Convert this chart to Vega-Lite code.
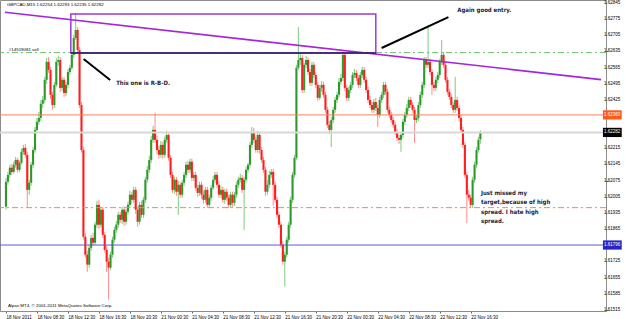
{
"$schema":"https://vega.github.io/schema/vega-lite/v6.json",
"width":606,"height":311,
"autosize":{"type":"none"},
"padding":{"left":0,"top":0,"right":19,"bottom":8},
"background":"white",
"config":{"view":{"stroke":"#8c8c8c","strokeWidth":1},"font":"Liberation Sans","axis":{"labelOverlap":false,"labelBound":false,"labelFlush":false}},
"data":{"values":[{}]},
"datasets":{"bars":[
{"i":0,"o":1.61962,"h":1.62087,"l":1.61949,"c":1.62070},
{"i":1,"o":1.62070,"h":1.62113,"l":1.62057,"c":1.62100},
{"i":2,"o":1.62100,"h":1.62144,"l":1.62087,"c":1.62131},
{"i":3,"o":1.62131,"h":1.62148,"l":1.62100,"c":1.62113},
{"i":4,"o":1.62113,"h":1.62157,"l":1.62105,"c":1.62144},
{"i":5,"o":1.62144,"h":1.62178,"l":1.62131,"c":1.62165},
{"i":6,"o":1.62165,"h":1.62174,"l":1.62109,"c":1.62122},
{"i":7,"o":1.62122,"h":1.62161,"l":1.62113,"c":1.62152},
{"i":8,"o":1.62152,"h":1.62213,"l":1.62144,"c":1.62200},
{"i":9,"o":1.62200,"h":1.62230,"l":1.62187,"c":1.62217},
{"i":10,"o":1.62217,"h":1.62234,"l":1.62174,"c":1.62187},
{"i":11,"o":1.62187,"h":1.62200,"l":1.61962,"c":1.62035},
{"i":12,"o":1.62035,"h":1.62079,"l":1.62014,"c":1.62066},
{"i":13,"o":1.62066,"h":1.62157,"l":1.62053,"c":1.62144},
{"i":14,"o":1.62144,"h":1.62221,"l":1.62131,"c":1.62208},
{"i":15,"o":1.62208,"h":1.62308,"l":1.62196,"c":1.62295},
{"i":16,"o":1.62295,"h":1.62347,"l":1.62282,"c":1.62330},
{"i":17,"o":1.62330,"h":1.62373,"l":1.62317,"c":1.62347},
{"i":18,"o":1.62347,"h":1.62425,"l":1.62334,"c":1.62408},
{"i":19,"o":1.62408,"h":1.62442,"l":1.62390,"c":1.62425},
{"i":20,"o":1.62425,"h":1.62525,"l":1.62412,"c":1.62512},
{"i":21,"o":1.62512,"h":1.62607,"l":1.62494,"c":1.62590},
{"i":22,"o":1.62590,"h":1.62611,"l":1.62542,"c":1.62555},
{"i":23,"o":1.62555,"h":1.62568,"l":1.62429,"c":1.62447},
{"i":24,"o":1.62447,"h":1.62460,"l":1.62382,"c":1.62403},
{"i":25,"o":1.62403,"h":1.62503,"l":1.62390,"c":1.62490},
{"i":26,"o":1.62490,"h":1.62607,"l":1.62481,"c":1.62590},
{"i":27,"o":1.62590,"h":1.62616,"l":1.62572,"c":1.62598},
{"i":28,"o":1.62598,"h":1.62611,"l":1.62460,"c":1.62477},
{"i":29,"o":1.62477,"h":1.62525,"l":1.62464,"c":1.62512},
{"i":30,"o":1.62512,"h":1.62525,"l":1.62438,"c":1.62455},
{"i":31,"o":1.62455,"h":1.62503,"l":1.62442,"c":1.62490},
{"i":32,"o":1.62490,"h":1.62559,"l":1.62477,"c":1.62546},
{"i":33,"o":1.62546,"h":1.62577,"l":1.62533,"c":1.62564},
{"i":34,"o":1.62564,"h":1.62633,"l":1.62555,"c":1.62620},
{"i":35,"o":1.62620,"h":1.62706,"l":1.62607,"c":1.62693},
{"i":36,"o":1.62693,"h":1.62802,"l":1.62685,"c":1.62728},
{"i":37,"o":1.62728,"h":1.62741,"l":1.62629,"c":1.62641},
{"i":38,"o":1.62641,"h":1.62654,"l":1.62390,"c":1.62403},
{"i":39,"o":1.62403,"h":1.62416,"l":1.62196,"c":1.62208},
{"i":40,"o":1.62208,"h":1.62221,"l":1.61819,"c":1.61832},
{"i":41,"o":1.61832,"h":1.61849,"l":1.61741,"c":1.61754},
{"i":42,"o":1.61754,"h":1.61771,"l":1.61680,"c":1.61711},
{"i":43,"o":1.61711,"h":1.61797,"l":1.61698,"c":1.61784},
{"i":44,"o":1.61784,"h":1.61840,"l":1.61771,"c":1.61827},
{"i":45,"o":1.61827,"h":1.61849,"l":1.61793,"c":1.61806},
{"i":46,"o":1.61806,"h":1.61897,"l":1.61797,"c":1.61884},
{"i":47,"o":1.61884,"h":1.61988,"l":1.61871,"c":1.61970},
{"i":48,"o":1.61970,"h":1.61992,"l":1.61866,"c":1.61884},
{"i":49,"o":1.61884,"h":1.61962,"l":1.61871,"c":1.61949},
{"i":50,"o":1.61949,"h":1.61962,"l":1.61827,"c":1.61840},
{"i":51,"o":1.61840,"h":1.61853,"l":1.61763,"c":1.61775},
{"i":52,"o":1.61775,"h":1.61793,"l":1.61680,"c":1.61724},
{"i":53,"o":1.61724,"h":1.61741,"l":1.61559,"c":1.61698},
{"i":54,"o":1.61698,"h":1.61767,"l":1.61689,"c":1.61754},
{"i":55,"o":1.61754,"h":1.61832,"l":1.61741,"c":1.61819},
{"i":56,"o":1.61819,"h":1.61875,"l":1.61806,"c":1.61862},
{"i":57,"o":1.61862,"h":1.61901,"l":1.61849,"c":1.61884},
{"i":58,"o":1.61884,"h":1.61940,"l":1.61871,"c":1.61927},
{"i":59,"o":1.61927,"h":1.61940,"l":1.61892,"c":1.61905},
{"i":60,"o":1.61905,"h":1.61962,"l":1.61888,"c":1.61949},
{"i":61,"o":1.61949,"h":1.61962,"l":1.61879,"c":1.61897},
{"i":62,"o":1.61897,"h":1.61953,"l":1.61884,"c":1.61940},
{"i":63,"o":1.61940,"h":1.61983,"l":1.61927,"c":1.61970},
{"i":64,"o":1.61970,"h":1.62031,"l":1.61957,"c":1.62014},
{"i":65,"o":1.62014,"h":1.62027,"l":1.61975,"c":1.61992},
{"i":66,"o":1.61992,"h":1.62048,"l":1.61979,"c":1.62035},
{"i":67,"o":1.62035,"h":1.62048,"l":1.61931,"c":1.61949},
{"i":68,"o":1.61949,"h":1.61962,"l":1.61875,"c":1.61897},
{"i":69,"o":1.61897,"h":1.61983,"l":1.61884,"c":1.61970},
{"i":70,"o":1.61970,"h":1.61988,"l":1.61914,"c":1.61927},
{"i":71,"o":1.61927,"h":1.62005,"l":1.61914,"c":1.61992},
{"i":72,"o":1.61992,"h":1.62092,"l":1.61979,"c":1.62079},
{"i":73,"o":1.62079,"h":1.62139,"l":1.62066,"c":1.62122},
{"i":74,"o":1.62122,"h":1.62183,"l":1.62109,"c":1.62165},
{"i":75,"o":1.62165,"h":1.62269,"l":1.62152,"c":1.62252},
{"i":76,"o":1.62252,"h":1.62312,"l":1.62239,"c":1.62295},
{"i":77,"o":1.62295,"h":1.62369,"l":1.62239,"c":1.62252},
{"i":78,"o":1.62252,"h":1.62269,"l":1.62191,"c":1.62208},
{"i":79,"o":1.62208,"h":1.62226,"l":1.62170,"c":1.62187},
{"i":80,"o":1.62187,"h":1.62247,"l":1.62174,"c":1.62230},
{"i":81,"o":1.62230,"h":1.62243,"l":1.62170,"c":1.62187},
{"i":82,"o":1.62187,"h":1.62265,"l":1.62174,"c":1.62252},
{"i":83,"o":1.62252,"h":1.62291,"l":1.62239,"c":1.62273},
{"i":84,"o":1.62273,"h":1.62286,"l":1.62161,"c":1.62174},
{"i":85,"o":1.62174,"h":1.62187,"l":1.62087,"c":1.62100},
{"i":86,"o":1.62100,"h":1.62113,"l":1.62022,"c":1.62035},
{"i":87,"o":1.62035,"h":1.62092,"l":1.62018,"c":1.62079},
{"i":88,"o":1.62079,"h":1.62092,"l":1.62009,"c":1.62027},
{"i":89,"o":1.62027,"h":1.62074,"l":1.61927,"c":1.62057},
{"i":90,"o":1.62057,"h":1.62070,"l":1.62001,"c":1.62014},
{"i":91,"o":1.62014,"h":1.62079,"l":1.62001,"c":1.62066},
{"i":92,"o":1.62066,"h":1.62113,"l":1.62053,"c":1.62100},
{"i":93,"o":1.62100,"h":1.62157,"l":1.62087,"c":1.62144},
{"i":94,"o":1.62144,"h":1.62161,"l":1.62109,"c":1.62122},
{"i":95,"o":1.62122,"h":1.62170,"l":1.62109,"c":1.62157},
{"i":96,"o":1.62157,"h":1.62170,"l":1.62074,"c":1.62087},
{"i":97,"o":1.62087,"h":1.62113,"l":1.62074,"c":1.62100},
{"i":98,"o":1.62100,"h":1.62113,"l":1.62031,"c":1.62044},
{"i":99,"o":1.62044,"h":1.62057,"l":1.62005,"c":1.62022},
{"i":100,"o":1.62022,"h":1.62070,"l":1.62009,"c":1.62057},
{"i":101,"o":1.62057,"h":1.62070,"l":1.61996,"c":1.62014},
{"i":102,"o":1.62014,"h":1.62031,"l":1.61975,"c":1.61992},
{"i":103,"o":1.61992,"h":1.62048,"l":1.61979,"c":1.62035},
{"i":104,"o":1.62035,"h":1.62048,"l":1.61957,"c":1.61970},
{"i":105,"o":1.61970,"h":1.62014,"l":1.61957,"c":1.62001},
{"i":106,"o":1.62001,"h":1.62057,"l":1.61988,"c":1.62044},
{"i":107,"o":1.62044,"h":1.62096,"l":1.62035,"c":1.62079},
{"i":108,"o":1.62079,"h":1.62113,"l":1.62066,"c":1.62100},
{"i":109,"o":1.62100,"h":1.62113,"l":1.62044,"c":1.62057},
{"i":110,"o":1.62057,"h":1.62074,"l":1.62001,"c":1.62014},
{"i":111,"o":1.62014,"h":1.62053,"l":1.62001,"c":1.62035},
{"i":112,"o":1.62035,"h":1.62048,"l":1.61979,"c":1.61992},
{"i":113,"o":1.61992,"h":1.62040,"l":1.61975,"c":1.62027},
{"i":114,"o":1.62027,"h":1.62040,"l":1.61988,"c":1.62001},
{"i":115,"o":1.62001,"h":1.62014,"l":1.61957,"c":1.61970},
{"i":116,"o":1.61970,"h":1.62027,"l":1.61957,"c":1.62014},
{"i":117,"o":1.62014,"h":1.62027,"l":1.61962,"c":1.61979},
{"i":118,"o":1.61979,"h":1.62027,"l":1.61966,"c":1.62014},
{"i":119,"o":1.62014,"h":1.62070,"l":1.62001,"c":1.62057},
{"i":120,"o":1.62057,"h":1.62092,"l":1.62044,"c":1.62079},
{"i":121,"o":1.62079,"h":1.62105,"l":1.62066,"c":1.62087},
{"i":122,"o":1.62087,"h":1.62100,"l":1.62022,"c":1.62035},
{"i":123,"o":1.62035,"h":1.62092,"l":1.61862,"c":1.62079},
{"i":124,"o":1.62079,"h":1.62135,"l":1.62066,"c":1.62122},
{"i":125,"o":1.62122,"h":1.62152,"l":1.62109,"c":1.62144},
{"i":126,"o":1.62144,"h":1.62243,"l":1.62131,"c":1.62230},
{"i":127,"o":1.62230,"h":1.62308,"l":1.62217,"c":1.62286},
{"i":128,"o":1.62286,"h":1.62304,"l":1.62239,"c":1.62252},
{"i":129,"o":1.62252,"h":1.62265,"l":1.62196,"c":1.62208},
{"i":130,"o":1.62208,"h":1.62291,"l":1.62196,"c":1.62273},
{"i":131,"o":1.62273,"h":1.62286,"l":1.62191,"c":1.62208},
{"i":132,"o":1.62208,"h":1.62221,"l":1.62152,"c":1.62165},
{"i":133,"o":1.62165,"h":1.62178,"l":1.62109,"c":1.62122},
{"i":134,"o":1.62122,"h":1.62135,"l":1.62009,"c":1.62027},
{"i":135,"o":1.62027,"h":1.62079,"l":1.62014,"c":1.62057},
{"i":136,"o":1.62057,"h":1.62118,"l":1.62044,"c":1.62100},
{"i":137,"o":1.62100,"h":1.62126,"l":1.62087,"c":1.62113},
{"i":138,"o":1.62113,"h":1.62126,"l":1.61966,"c":1.62057},
{"i":139,"o":1.62057,"h":1.62070,"l":1.61979,"c":1.61992},
{"i":140,"o":1.61992,"h":1.62005,"l":1.61914,"c":1.61927},
{"i":141,"o":1.61927,"h":1.61940,"l":1.61871,"c":1.61884},
{"i":142,"o":1.61884,"h":1.61897,"l":1.61784,"c":1.61797},
{"i":143,"o":1.61797,"h":1.61814,"l":1.61711,"c":1.61724},
{"i":144,"o":1.61724,"h":1.61767,"l":1.61615,"c":1.61754},
{"i":145,"o":1.61754,"h":1.61832,"l":1.61741,"c":1.61819},
{"i":146,"o":1.61819,"h":1.61897,"l":1.61806,"c":1.61884},
{"i":147,"o":1.61884,"h":1.62005,"l":1.61871,"c":1.61992},
{"i":148,"o":1.61992,"h":1.62113,"l":1.61979,"c":1.62100},
{"i":149,"o":1.62100,"h":1.62187,"l":1.62087,"c":1.62174},
{"i":150,"o":1.62174,"h":1.62577,"l":1.62165,"c":1.62564},
{"i":151,"o":1.62564,"h":1.62741,"l":1.62555,"c":1.62598},
{"i":152,"o":1.62598,"h":1.62629,"l":1.62577,"c":1.62607},
{"i":153,"o":1.62607,"h":1.62620,"l":1.62455,"c":1.62468},
{"i":154,"o":1.62468,"h":1.62585,"l":1.62455,"c":1.62577},
{"i":155,"o":1.62577,"h":1.62616,"l":1.62564,"c":1.62598},
{"i":156,"o":1.62598,"h":1.62611,"l":1.62533,"c":1.62546},
{"i":157,"o":1.62546,"h":1.62559,"l":1.62486,"c":1.62499},
{"i":158,"o":1.62499,"h":1.62590,"l":1.62486,"c":1.62577},
{"i":159,"o":1.62577,"h":1.62590,"l":1.62520,"c":1.62533},
{"i":160,"o":1.62533,"h":1.62546,"l":1.62477,"c":1.62490},
{"i":161,"o":1.62490,"h":1.62503,"l":1.62421,"c":1.62434},
{"i":162,"o":1.62434,"h":1.62490,"l":1.62425,"c":1.62477},
{"i":163,"o":1.62477,"h":1.62507,"l":1.62460,"c":1.62490},
{"i":164,"o":1.62490,"h":1.62503,"l":1.62434,"c":1.62447},
{"i":165,"o":1.62447,"h":1.62460,"l":1.62369,"c":1.62382},
{"i":166,"o":1.62382,"h":1.62395,"l":1.62304,"c":1.62317},
{"i":167,"o":1.62317,"h":1.62334,"l":1.62278,"c":1.62295},
{"i":168,"o":1.62295,"h":1.62351,"l":1.62221,"c":1.62338},
{"i":169,"o":1.62338,"h":1.62395,"l":1.62325,"c":1.62382},
{"i":170,"o":1.62382,"h":1.62438,"l":1.62369,"c":1.62425},
{"i":171,"o":1.62425,"h":1.62460,"l":1.62412,"c":1.62447},
{"i":172,"o":1.62447,"h":1.62520,"l":1.62434,"c":1.62503},
{"i":173,"o":1.62503,"h":1.62538,"l":1.62490,"c":1.62520},
{"i":174,"o":1.62520,"h":1.62633,"l":1.62507,"c":1.62620},
{"i":175,"o":1.62620,"h":1.62633,"l":1.62464,"c":1.62477},
{"i":176,"o":1.62477,"h":1.62490,"l":1.62421,"c":1.62434},
{"i":177,"o":1.62434,"h":1.62481,"l":1.62421,"c":1.62468},
{"i":178,"o":1.62468,"h":1.62503,"l":1.62455,"c":1.62490},
{"i":179,"o":1.62490,"h":1.62546,"l":1.62477,"c":1.62533},
{"i":180,"o":1.62533,"h":1.62559,"l":1.62520,"c":1.62542},
{"i":181,"o":1.62542,"h":1.62555,"l":1.62507,"c":1.62520},
{"i":182,"o":1.62520,"h":1.62533,"l":1.62477,"c":1.62490},
{"i":183,"o":1.62490,"h":1.62546,"l":1.62477,"c":1.62533},
{"i":184,"o":1.62533,"h":1.62568,"l":1.62520,"c":1.62555},
{"i":185,"o":1.62555,"h":1.62568,"l":1.62499,"c":1.62512},
{"i":186,"o":1.62512,"h":1.62525,"l":1.62455,"c":1.62468},
{"i":187,"o":1.62468,"h":1.62481,"l":1.62412,"c":1.62425},
{"i":188,"o":1.62425,"h":1.62442,"l":1.62390,"c":1.62403},
{"i":189,"o":1.62403,"h":1.62416,"l":1.62369,"c":1.62382},
{"i":190,"o":1.62382,"h":1.62429,"l":1.62369,"c":1.62416},
{"i":191,"o":1.62416,"h":1.62434,"l":1.62377,"c":1.62390},
{"i":192,"o":1.62390,"h":1.62403,"l":1.62308,"c":1.62360},
{"i":193,"o":1.62360,"h":1.62438,"l":1.62347,"c":1.62425},
{"i":194,"o":1.62425,"h":1.62460,"l":1.62412,"c":1.62447},
{"i":195,"o":1.62447,"h":1.62503,"l":1.62434,"c":1.62490},
{"i":196,"o":1.62490,"h":1.62503,"l":1.62447,"c":1.62460},
{"i":197,"o":1.62460,"h":1.62473,"l":1.62369,"c":1.62382},
{"i":198,"o":1.62382,"h":1.62395,"l":1.62347,"c":1.62360},
{"i":199,"o":1.62360,"h":1.62373,"l":1.62325,"c":1.62338},
{"i":200,"o":1.62338,"h":1.62351,"l":1.62304,"c":1.62317},
{"i":201,"o":1.62317,"h":1.62330,"l":1.62273,"c":1.62286},
{"i":202,"o":1.62286,"h":1.62299,"l":1.62247,"c":1.62260},
{"i":203,"o":1.62260,"h":1.62273,"l":1.62234,"c":1.62252},
{"i":204,"o":1.62252,"h":1.62286,"l":1.62200,"c":1.62273},
{"i":205,"o":1.62273,"h":1.62343,"l":1.62260,"c":1.62330},
{"i":206,"o":1.62330,"h":1.62373,"l":1.62317,"c":1.62360},
{"i":207,"o":1.62360,"h":1.62408,"l":1.62347,"c":1.62390},
{"i":208,"o":1.62390,"h":1.62438,"l":1.62377,"c":1.62425},
{"i":209,"o":1.62425,"h":1.62438,"l":1.62390,"c":1.62403},
{"i":210,"o":1.62403,"h":1.62416,"l":1.62369,"c":1.62382},
{"i":211,"o":1.62382,"h":1.62395,"l":1.62239,"c":1.62338},
{"i":212,"o":1.62338,"h":1.62360,"l":1.62325,"c":1.62347},
{"i":213,"o":1.62347,"h":1.62416,"l":1.62334,"c":1.62403},
{"i":214,"o":1.62403,"h":1.62460,"l":1.62390,"c":1.62447},
{"i":215,"o":1.62447,"h":1.62503,"l":1.62434,"c":1.62490},
{"i":216,"o":1.62490,"h":1.62611,"l":1.62477,"c":1.62598},
{"i":217,"o":1.62598,"h":1.62611,"l":1.62564,"c":1.62577},
{"i":218,"o":1.62577,"h":1.62741,"l":1.62564,"c":1.62590},
{"i":219,"o":1.62590,"h":1.62603,"l":1.62533,"c":1.62546},
{"i":220,"o":1.62546,"h":1.62559,"l":1.62447,"c":1.62490},
{"i":221,"o":1.62490,"h":1.62503,"l":1.62464,"c":1.62477},
{"i":222,"o":1.62477,"h":1.62525,"l":1.62464,"c":1.62512},
{"i":223,"o":1.62512,"h":1.62546,"l":1.62499,"c":1.62533},
{"i":224,"o":1.62533,"h":1.62603,"l":1.62520,"c":1.62590},
{"i":225,"o":1.62590,"h":1.62685,"l":1.62577,"c":1.62620},
{"i":226,"o":1.62620,"h":1.62633,"l":1.62564,"c":1.62577},
{"i":227,"o":1.62577,"h":1.62590,"l":1.62499,"c":1.62512},
{"i":228,"o":1.62512,"h":1.62525,"l":1.62447,"c":1.62460},
{"i":229,"o":1.62460,"h":1.62473,"l":1.62425,"c":1.62438},
{"i":230,"o":1.62438,"h":1.62451,"l":1.62390,"c":1.62403},
{"i":231,"o":1.62403,"h":1.62416,"l":1.62369,"c":1.62382},
{"i":232,"o":1.62382,"h":1.62525,"l":1.62369,"c":1.62425},
{"i":233,"o":1.62425,"h":1.62438,"l":1.62377,"c":1.62390},
{"i":234,"o":1.62390,"h":1.62403,"l":1.62334,"c":1.62347},
{"i":235,"o":1.62347,"h":1.62360,"l":1.62282,"c":1.62295},
{"i":236,"o":1.62295,"h":1.62308,"l":1.62217,"c":1.62230},
{"i":237,"o":1.62230,"h":1.62243,"l":1.62087,"c":1.62100},
{"i":238,"o":1.62100,"h":1.62113,"l":1.61892,"c":1.62014},
{"i":239,"o":1.62014,"h":1.62035,"l":1.61988,"c":1.62001},
{"i":240,"o":1.62001,"h":1.62014,"l":1.61957,"c":1.61970},
{"i":241,"o":1.61970,"h":1.62092,"l":1.61957,"c":1.62079},
{"i":242,"o":1.62079,"h":1.62157,"l":1.62066,"c":1.62144},
{"i":243,"o":1.62144,"h":1.62221,"l":1.62131,"c":1.62208},
{"i":244,"o":1.62208,"h":1.62265,"l":1.62196,"c":1.62252},
{"i":245,"o":1.62254,"h":1.62293,"l":1.62235,"c":1.62282}
],
"yticks":[{"p":1.62845},{"p":1.62775},{"p":1.62705},{"p":1.62635},{"p":1.62565},{"p":1.62495},{"p":1.62425},{"p":1.62215},{"p":1.62145},{"p":1.62075},{"p":1.62005},{"p":1.61935},{"p":1.61865},{"p":1.61725},{"p":1.61655},{"p":1.61585},{"p":1.61515}]
},
"layer":[
{"data":{"name":"bars"},
 "mark":{"type":"rule","strokeWidth":1},
 "encoding":{
  "x":{"field":"i","type":"quantitative","scale":{"domain":[-0.5,307.3],"nice":false,"zero":false},
    "axis":{"orient":"bottom","title":null,"grid":false,"values":[0,16,32,48,64,80,96,112,128,144,160,176,192,208,224,240],
      "labelExpr":"['18 Nov 2011','18 Nov 08:30','18 Nov 12:30','18 Nov 16:30','18 Nov 20:30','21 Nov 00:30','21 Nov 04:30','21 Nov 08:30','21 Nov 12:30','21 Nov 16:30','21 Nov 20:30','22 Nov 00:30','22 Nov 04:30','22 Nov 08:30','22 Nov 12:30','22 Nov 16:30'][round(datum.value/16)]",
      "labelAlign":"left","labelFontSize":4.5,"labelColor":"#000","labelPadding":1,"labelFont":"Liberation Sans","tickSize":2,"tickColor":"#666","domainColor":"#8c8c8c","labelOverlap":false,"labelBound":false}},
  "y":{"field":"l","type":"quantitative","scale":{"domain":[1.6151,1.62858],"nice":false,"zero":false},
    "axis":{"orient":"right","title":null,"grid":false,"labels":false,"values":[1.62845,1.62775,1.62705,1.62635,1.62565,1.62495,1.62425,1.62355,1.62285,1.62215,1.62145,1.62075,1.62005,1.61935,1.61865,1.61795,1.61725,1.61655,1.61585,1.61515],
      "tickSize":2,"tickColor":"#666","domainColor":"#8c8c8c"}},
  "y2":{"field":"h"},
  "color":{"condition":{"test":"datum.c >= datum.o","value":"#7ccc7c"},"value":"#ff8c8c"}
 }},
{"data":{"name":"bars"},
 "mark":{"type":"bar","size":2.1},
 "encoding":{
  "x":{"field":"i","type":"quantitative"},
  "y":{"field":"o","type":"quantitative"},
  "y2":{"field":"c"},
  "color":{"condition":{"test":"datum.c >= datum.o","value":"#2b9a2b"},"value":"#ff1e1e"}
 }},
{"data":{"name":"yticks"},
 "mark":{"type":"text","clip":false,"align":"left","baseline":"middle","fontSize":4.5,"color":"#000"},
 "encoding":{"x":{"datum":308.9,"type":"quantitative"},"y":{"field":"p","type":"quantitative"},"text":{"field":"p","type":"quantitative","format":".5f"}}},
{"mark":{"type":"rule","color":"#f4845f","strokeWidth":1},"encoding":{"y":{"datum":1.6236,"type":"quantitative"}}},
{"mark":{"type":"rule","color":"#d8d8d8","strokeWidth":2},"encoding":{"y":{"datum":1.62284,"type":"quantitative"}}},
{"mark":{"type":"rule","color":"#5b5bd6","strokeWidth":1},"encoding":{"y":{"datum":1.61796,"type":"quantitative"}}},
{"mark":{"type":"rule","color":"#6cbf6c","strokeWidth":1,"strokeDash":[6,3,2,3]},"encoding":{"y":{"datum":1.6263,"type":"quantitative"}}},
{"mark":{"type":"rule","color":"#f4845f","strokeWidth":1,"strokeDash":[6,3,2,3]},"encoding":{"y":{"datum":1.61958,"type":"quantitative"}}},
{"mark":{"type":"rule","color":"#a524e0","strokeWidth":1.6},"encoding":{"x":{"datum":-0.5,"type":"quantitative"},"y":{"datum":1.62805,"type":"quantitative"},"x2":{"datum":307.3},"y2":{"datum":1.62513}}},
{"mark":{"type":"rect","filled":false,"stroke":"#9a3ad8","strokeWidth":1.5},"encoding":{"x":{"datum":33.5,"type":"quantitative"},"x2":{"datum":191},"y":{"datum":1.62797,"type":"quantitative"},"y2":{"datum":1.62628}}},
{"mark":{"type":"rule","color":"#2a1a5e","strokeWidth":1.5},"encoding":{"x":{"datum":33.5,"type":"quantitative"},"x2":{"datum":191},"y":{"datum":1.62628,"type":"quantitative"}}},
{"mark":{"type":"rule","color":"#000","strokeWidth":2},"encoding":{"x":{"datum":40.1,"type":"quantitative"},"y":{"datum":1.62602,"type":"quantitative"},"x2":{"datum":53.8},"y2":{"datum":1.62511}}},
{"mark":{"type":"rule","color":"#000","strokeWidth":2},"encoding":{"x":{"datum":194,"type":"quantitative"},"y":{"datum":1.6265,"type":"quantitative"},"x2":{"datum":228.5},"y2":{"datum":1.62784}}},
{"mark":{"type":"text","align":"left","baseline":"middle","font":"Liberation Sans Narrow, DejaVu Sans Condensed, Liberation Sans","fontWeight":"bold","fontSize":6,"color":"#1c1c3a"},"encoding":{"x":{"datum":56.9,"type":"quantitative"},"y":{"datum":1.62498,"type":"quantitative"},"text":{"value":"This one is R-B-D."}}},
{"mark":{"type":"text","align":"left","baseline":"middle","font":"Liberation Sans Narrow, DejaVu Sans Condensed, Liberation Sans","fontWeight":"bold","fontSize":6,"color":"#1c1c3a"},"encoding":{"x":{"datum":233.1,"type":"quantitative"},"y":{"datum":1.62815,"type":"quantitative"},"text":{"value":"Again good entry."}}},
{"mark":{"type":"text","align":"left","baseline":"middle","lineBreak":"\n","lineHeight":9.4,"font":"Liberation Sans Narrow, DejaVu Sans Condensed, Liberation Sans","fontWeight":"bold","fontSize":6,"color":"#1c1c3a"},"encoding":{"x":{"datum":245.3,"type":"quantitative"},"y":{"datum":1.62022,"type":"quantitative"},"text":{"value":"Just missed my\ntarget,because of high\nspread. I hate high\nspread."}}},
{"mark":{"type":"text","align":"left","baseline":"middle","fontSize":4.4,"color":"#000"},"encoding":{"x":{"datum":0.5,"type":"quantitative"},"y":{"datum":1.62836,"type":"quantitative"},"text":{"value":"GBPCAD,M15  1.62254 1.62293 1.62235 1.62282"}}},
{"mark":{"type":"text","align":"left","baseline":"middle","fontSize":4.4,"color":"#000"},"encoding":{"x":{"datum":1.5,"type":"quantitative"},"y":{"datum":1.62643,"type":"quantitative"},"text":{"value":"#14519081 sell"}}},
{"mark":{"type":"text","align":"left","baseline":"middle","fontSize":4.4,"color":"#000"},"encoding":{"x":{"datum":1,"type":"quantitative"},"y":{"datum":1.61532,"type":"quantitative"},"text":{"value":"Alpari MT4, © 2001-2011 MetaQuotes Software Corp."}}},
{"mark":{"type":"rect","clip":false,"color":"#ff5a1e"},"encoding":{"x":{"datum":308.3,"type":"quantitative"},"x2":{"datum":318},"y":{"datum":1.6238,"type":"quantitative"},"y2":{"datum":1.6234}}},
{"mark":{"type":"text","clip":false,"align":"left","baseline":"middle","fontSize":4.5,"color":"#fff"},"encoding":{"x":{"datum":308.9,"type":"quantitative"},"y":{"datum":1.6236,"type":"quantitative"},"text":{"value":"1.62360"}}},
{"mark":{"type":"rect","clip":false,"color":"#000"},"encoding":{"x":{"datum":308.3,"type":"quantitative"},"x2":{"datum":318},"y":{"datum":1.62304,"type":"quantitative"},"y2":{"datum":1.62264}}},
{"mark":{"type":"text","clip":false,"align":"left","baseline":"middle","fontSize":4.5,"color":"#fff"},"encoding":{"x":{"datum":308.9,"type":"quantitative"},"y":{"datum":1.62284,"type":"quantitative"},"text":{"value":"1.62282"}}},
{"mark":{"type":"rect","clip":false,"color":"#2626c8"},"encoding":{"x":{"datum":308.3,"type":"quantitative"},"x2":{"datum":318},"y":{"datum":1.61816,"type":"quantitative"},"y2":{"datum":1.61776}}},
{"mark":{"type":"text","clip":false,"align":"left","baseline":"middle","fontSize":4.5,"color":"#fff"},"encoding":{"x":{"datum":308.9,"type":"quantitative"},"y":{"datum":1.61796,"type":"quantitative"},"text":{"value":"1.61796"}}}
]
}
